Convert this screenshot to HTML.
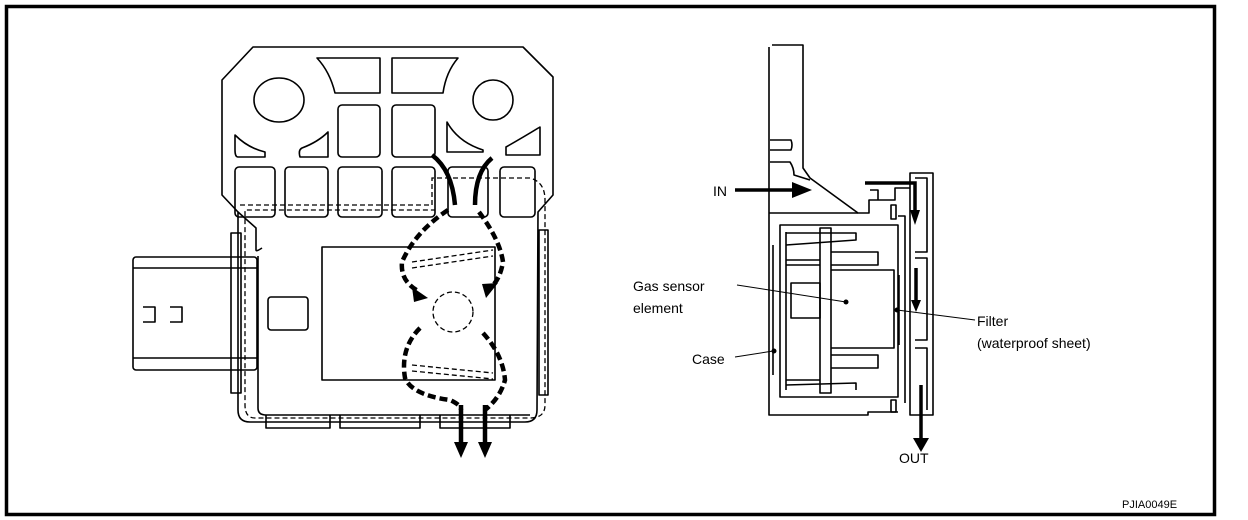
<!DOCTYPE html>
<html><head><meta charset="utf-8"><style>
html,body{margin:0;padding:0;background:#fff;}
svg{display:block;}
text{font-family:"Liberation Sans",sans-serif;fill:#000;}
</style></head><body>
<svg width="1248" height="520" viewBox="0 0 1248 520" xmlns="http://www.w3.org/2000/svg">
<rect x="6.5" y="6.5" width="1208" height="508" fill="none" stroke="#000" stroke-width="3.5"/>
<g fill="none" stroke="#000" stroke-width="1.6" stroke-linejoin="round">
<path d="M253,47 L523,47 L553,77 L553,195 L538,212 L537,410 Q537,422 525,422 L250,422 Q238,422 238,410 L238,212 L222,195 L222,80 Z"/>
<path d="M238,212 L256,228 L256,250 Q256,252 262,248"/>
<path d="M258,256 L258,408 Q258,415 266,415 L530,415"/>
<ellipse cx="279" cy="100" rx="25" ry="22"/>
<circle cx="493" cy="100" r="20"/>
<path d="M317,58 L380,58 L380,93 L335,93 Q330,72 317,58 Z"/>
<path d="M392,58 L458,58 Q446,72 443,93 L392,93 Z"/>
<rect x="338" y="105" width="42" height="52" rx="4"/>
<rect x="392" y="105" width="43" height="52" rx="4"/>
<path d="M235,135 Q248,148 265,152 L265,157 L238,157 Q235,157 235,150 Z"/>
<path d="M328,132 L328,157 L300,157 Q298,150 302,148 Q318,142 328,132 Z"/>
<path d="M447,122 Q458,142 483,150 L483,152 L447,152 Z"/>
<path d="M540,127 Q522,138 506,147 L506,155 L540,155 Z"/>
<rect x="235" y="167" width="40" height="50" rx="4"/>
<rect x="285" y="167" width="43" height="50" rx="4"/>
<rect x="338" y="167" width="44" height="50" rx="4"/>
<rect x="392" y="167" width="43" height="50" rx="4"/>
<rect x="448" y="167" width="40" height="50" rx="4"/>
<rect x="500" y="167" width="35" height="50" rx="4"/>
<rect x="133" y="257" width="124" height="113" rx="3"/>
<line x1="133" y1="268" x2="257" y2="268"/>
<line x1="133" y1="358" x2="257" y2="358"/>
<path d="M143,307 L155,307 L155,322 L143,322 M170,307 L182,307 L182,322 L170,322"/>
<rect x="231" y="233" width="10" height="160"/>
<rect x="268" y="297" width="40" height="33" rx="3"/>
<rect x="322" y="247" width="173" height="133"/>
<rect x="539" y="230" width="9" height="165"/>
<path d="M266,415 L266,428 L330,428 L330,415 M340,415 L340,428 L420,428 L420,415 M440,415 L440,428 L510,428 L510,415"/>
</g>
<g fill="none" stroke="#000" stroke-width="1.3" stroke-dasharray="5,3">
<path d="M240,205 L432,205 L432,178 L530,178 Q545,182 545,200 L545,405 Q545,418 530,418 L255,418 Q245,418 245,405 L245,210 L435,210"/>
<path d="M412,262 L493,250 M412,268 L493,256"/>
<path d="M412,365 L493,373 M412,371 L493,379"/>
<circle cx="453" cy="312" r="20"/>
</g>
<g fill="none" stroke="#000" stroke-width="4.5">
<path d="M432,155 Q452,170 455,205"/>
<path d="M492,158 Q475,172 475,205"/>
<path d="M461,405 L461,445" /><path d="M485,405 L485,445"/>
</g>
<g fill="none" stroke="#000" stroke-width="4.5" stroke-dasharray="8,4">
<path d="M448,210 Q415,232 402,262 Q400,282 420,292"/>
<path d="M479,212 Q500,240 503,262 Q500,280 490,288"/>
<path d="M420,328 Q400,348 405,378 Q412,395 450,400 Q461,405 461,410"/>
<path d="M483,333 Q503,355 505,380 Q500,398 485,410"/>
</g>
<path d="M412,287 L428,298 L414,302 Z" fill="#000"/>
<path d="M498,283 L486,298 L482,284 Z" fill="#000"/>
<path d="M454,442 L468,442 L461,458 Z" fill="#000"/>
<path d="M478,442 L492,442 L485,458 Z" fill="#000"/>

<g fill="none" stroke="#000" stroke-width="1.6" stroke-linejoin="round">
<path d="M772,45 L803,45 L803,168 L810,178 L858,213 L869,213 L869,200 L895,200 L895,188 L910,188"/>
<path d="M769,47 L769,415 L868,415 L868,412 L898,412"/>
<path d="M769,213 L858,213"/>
<path d="M770,140 L791,140 Q793,145 791,150 L770,150"/>
<path d="M770,162 L790,162 Q794,168 794,175 L810,180"/>
<path d="M780,225 L898,225 L898,397 L780,397 Z"/>
<path d="M786,232 L786,390"/>
<rect x="820" y="228" width="11" height="165"/>
<path d="M786,233 L856,233 L856,240 L786,245"/>
<path d="M831,252 L878,252 L878,265 L831,265"/>
<path d="M786,260 L820,260 M786,265 L820,265"/>
<path d="M791,283 L820,283 L820,318 L791,318 Z"/>
<path d="M831,270 L894,270 L894,348 L831,348"/>
<path d="M831,355 L878,355 L878,368 L831,368"/>
<path d="M786,380 L820,380 M786,385 L856,383 L856,390"/>
<path d="M773,245 L773,375"/>
<path d="M898,216 L905,216 L905,403"/>
<path d="M899,275 L899,345"/>
<path d="M910,173 L933,173 L933,415 L910,415 Z"/>
<path d="M915,178 L927,178 L927,252 L915,252 M915,258 L927,258 L927,340 L915,340 M915,348 L927,348 L927,410"/>
<path d="M870,190 L878,190 L878,200"/>
<rect x="891" y="205" width="5" height="14"/>
<rect x="891" y="400" width="5" height="12"/>
</g>
<g stroke="#000" stroke-width="3.5" fill="none">
<path d="M735,190 L800,190"/>
<path d="M865,183 L915,183 L915,215"/>
<path d="M916,268 L916,305"/>
<path d="M921,385 L921,443"/>
</g>
<path d="M792,182 L812,190 L792,198 Z" fill="#000"/>
<path d="M910,210 L920,210 L915,225 Z" fill="#000"/>
<path d="M911,300 L921,300 L916,312 Z" fill="#000"/>
<path d="M913,438 L929,438 L921,452 Z" fill="#000"/>
<g stroke="#000" stroke-width="1" fill="none">
<path d="M737,285 L846,302"/>
<path d="M735,357 L773,351"/>
<path d="M897,310 L975,320"/>
</g>
<circle cx="846" cy="302" r="2.5" fill="#000"/>
<circle cx="774" cy="351" r="2.5" fill="#000"/>
<circle cx="897" cy="310" r="2.5" fill="#000"/>
<text x="713" y="196" font-size="14">IN</text>
<text x="633" y="291" font-size="14">Gas sensor</text>
<text x="633" y="313" font-size="14">element</text>
<text x="692" y="364" font-size="14">Case</text>
<text x="977" y="326" font-size="14">Filter</text>
<text x="977" y="348" font-size="14">(waterproof sheet)</text>
<text x="899" y="463" font-size="14">OUT</text>
<text x="1122" y="508" font-size="11">PJIA0049E</text>
</svg>
</body></html>
